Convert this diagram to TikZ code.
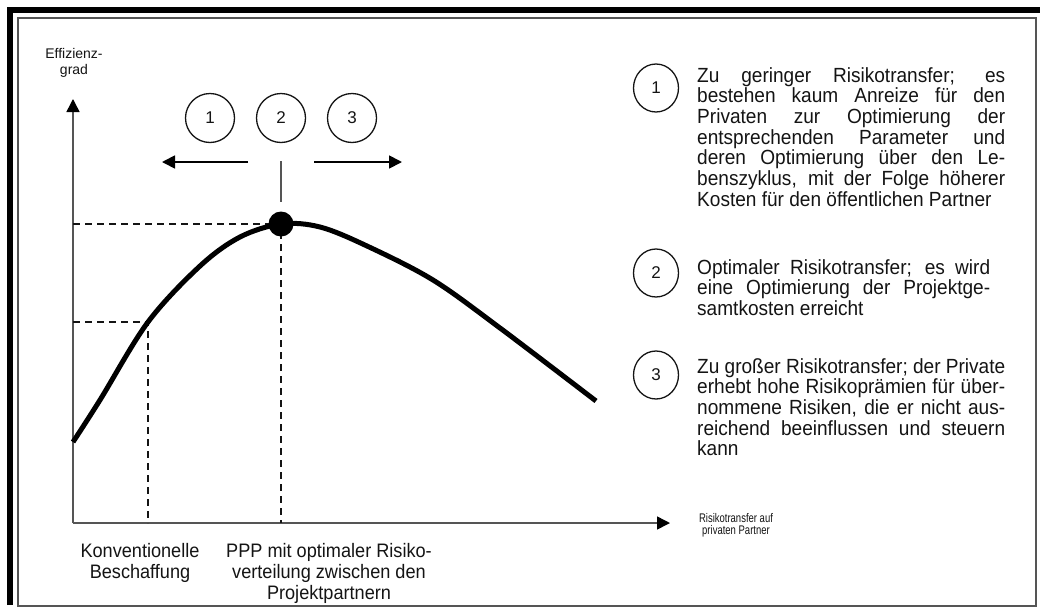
\documentclass[tikz,border=0pt]{standalone}
\usepackage{fontspec}
\setmainfont{Liberation Sans}
\newfontfamily\cond[FakeStretch=0.93]{Liberation Sans}
\newfontfamily\tight[FakeStretch=0.76]{Liberation Sans}
\usepackage{tikz}
\usetikzlibrary{shapes,arrows.meta,positioning}
\definecolor{axis}{RGB}{85,85,85}
\definecolor{ink}{RGB}{20,20,20}
\tikzstyle{num} = [circle, draw=ink, line width=1.3pt, minimum size=49pt, inner sep=0pt, text=ink, font=\fontsize{17}{17}\selectfont, node distance=71pt]
\tikzstyle{key} = [ellipse, draw=ink, line width=1.3pt, minimum width=45pt, minimum height=48pt, inner sep=0pt, text=ink, font=\fontsize{17}{17}\selectfont]
\tikzstyle{note} = [anchor=north west, inner sep=0pt, align=left, text=ink, font=\fontsize{20.5}{20.7}\cond]
\tikzstyle{lowtext} = [anchor=north, inner sep=0pt, align=center, text=ink, font=\fontsize{19.5}{21}\cond]
\tikzstyle{line} = [draw, line width=1.8pt, -{Triangle[length=13pt,width=13pt]}]
\tikzstyle{axisline} = [draw=axis, line width=1.5pt, -{Triangle[length=13pt,width=13pt,color=black]}]
\tikzstyle{guide} = [draw=ink, line width=1.4pt, dash pattern=on 7pt off 5pt]
\newcommand{\jl}[2][308pt]{\makebox[#1][s]{#2}\\}

\begin{document}
\begin{tikzpicture}[x=1pt, y=-1pt]
    \useasboundingbox (0,0) rectangle (1040,608);
    % frame
    \draw [line width=6pt] (10,605) -- (10,10) -- (1040,10);
    \draw [draw=axis, line width=1.2pt] (18,18) rectangle (1036,606);

    % axes
    \coordinate (O) at (73,523);
    \coordinate (ytop) at (73,99);
    \coordinate (xend) at (670,523);
    \path [axisline] (O) -- (ytop);
    \path [axisline] (O) -- (xend);
    \node [anchor=north, inner sep=0pt, align=center, text=ink, font=\fontsize{14}{16}\selectfont] (ylab) at (74,48) {Effizienz-\\grad};
    \node [anchor=north, inner sep=0pt, align=center, text=ink, font=\fontsize{12.5}{12}\tight] (xlab) at (736,513) {Risikotransfer auf\\privaten Partner};

    % curve
    \coordinate (conv) at (148,322);
    \coordinate (opt) at (281,224);
    \path [guide] (O |- opt) -- (opt) -- (O -| opt);
    \path [guide] (O |- conv) -- (conv) -- (O -| conv);
    \draw [line width=5pt] plot [smooth, tension=0.55] coordinates {(73,442) (100,400) (conv) (200,266) (240,237) (opt) (320,227) (367,246) (433,280) (500,328) (596,401)};
    \node [circle, fill=black, minimum size=25pt, inner sep=0pt] (peak) at (opt) {};

    % numbered circles
    \node [num] (two) at (281,118) {2};
    \node [num, left of=two] (one) {1};
    \node [num, right of=two] (three) {3};
    \coordinate (la) at (248,162);
    \coordinate (lb) at (162,162);
    \coordinate (ra) at (314,162);
    \coordinate (rb) at (402,162);
    \coordinate (stem) at (281,161);
    \path [line] (la) -- (lb);
    \path [line] (ra) -- (rb);
    \draw [draw=axis, line width=1.5pt] (stem) -- ([yshift=9pt]peak.north);

    \node [lowtext] (conventional) at (140,543) {Konventionelle\\Beschaffung};
    \node [lowtext] (ppp) at (329,543) {PPP mit optimaler Risiko-\\verteilung zwischen den\\Projektpartnern};

    % legend
    \node [key] (k1) at (656,88) {1};
    \node [key] (k2) at (656,273) {2};
    \node [key] (k3) at (656,375) {3};
    \node [note] (t1) at (697,67) {\jl{Zu geringer Risikotransfer; es}\jl{bestehen kaum Anreize für den}\jl{Privaten zur Optimierung der}\jl{entsprechenden Parameter und}\jl{deren Optimierung über den Le-}\jl{benszyklus, mit der Folge höherer}Kosten für den öffentlichen Partner};
    \node [note] (t2) at (697,259) {\jl[293pt]{Optimaler Risikotransfer; es wird}\jl[293pt]{eine Optimierung der Projektge-}samtkosten erreicht};
    \node [note] (t3) at (697,358) {\jl{Zu großer Risikotransfer; der Private}\jl{erhebt hohe Risikoprämien für über-}\jl{nommene Risiken, die er nicht aus-}\jl{reichend beeinflussen und steuern}kann};
\end{tikzpicture}
\end{document}
